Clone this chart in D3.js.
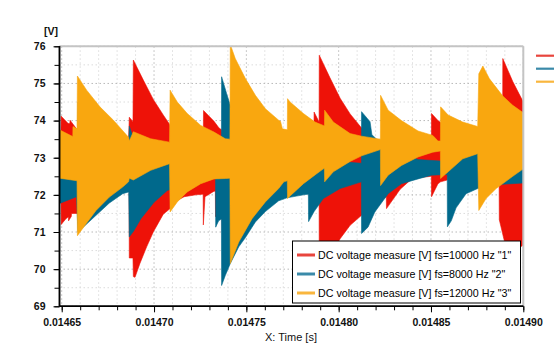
<!DOCTYPE html>
<html>
<head>
<meta charset="utf-8">
<script src="https://cdn.jsdelivr.net/npm/d3@7"></script>
<style>
  body { margin: 0; background: #fff; }
  svg { display: block; }
  text { font-family: "Liberation Sans", Arial, sans-serif; }
</style>
</head>
<body>
<script>
// envelopes of the ripple bands, [time s, voltage V]
const redUpper = [[0.0146488,73.70],[0.0146496,73.70],[0.0146497,74.12],[0.0146535,73.92],[0.0146544,73.92],[0.0146545,74.01],[0.0146577,73.80],[0.0146585,73.75],[0.0146862,73.40],[0.0146866,74.09],[0.0146886,73.97],[0.0146888,75.63],[0.0146942,75.09],[0.0146996,74.57],[0.0147050,74.15],[0.0147084,73.90],[0.0147087,73.85],[0.0147267,73.60],[0.0147268,74.27],[0.0147325,73.98],[0.0147352,73.80],[0.0147366,73.75],[0.0147370,73.60],[0.0147866,73.70],[0.0147867,74.23],[0.0147894,73.96],[0.0147895,75.76],[0.0147953,75.15],[0.0148008,74.60],[0.0148062,74.18],[0.0148124,73.80],[0.0148170,73.60],[0.0148227,73.40],[0.0148502,73.30],[0.0148503,74.19],[0.0148538,74.00],[0.0148552,73.95],[0.0148870,73.60],[0.0148888,73.60],[0.0148889,75.67],[0.0148943,75.05],[0.0149000,74.50]];
const redLower = [[0.0146488,72.00],[0.0146496,72.00],[0.0146497,71.20],[0.0146523,71.36],[0.0146536,71.41],[0.0146537,71.30],[0.0146552,71.42],[0.0146553,71.50],[0.0146585,71.50],[0.0146862,72.20],[0.0146865,72.20],[0.0146866,70.30],[0.0146886,70.30],[0.0146888,69.80],[0.0146897,69.78],[0.0146924,70.16],[0.0146960,70.60],[0.0146996,71.00],[0.0147050,71.48],[0.0147087,71.63],[0.0147126,71.85],[0.0147163,71.95],[0.0147226,72.00],[0.0147266,72.02],[0.0147267,71.19],[0.0147276,71.95],[0.0147325,72.10],[0.0147332,72.10],[0.0147333,71.41],[0.0147352,71.60],[0.0147366,71.65],[0.0147370,71.00],[0.0147600,71.90],[0.0147894,72.10],[0.0147895,69.90],[0.0147953,70.35],[0.0148008,70.82],[0.0148062,71.18],[0.0148124,71.45],[0.0148170,71.60],[0.0148227,71.85],[0.0148258,71.95],[0.0148259,71.63],[0.0148333,72.15],[0.0148400,72.45],[0.0148502,72.50],[0.0148503,71.95],[0.0148538,72.30],[0.0148552,72.35],[0.0148588,72.40],[0.0148590,72.50],[0.0148869,72.40],[0.0148870,71.33],[0.0148905,70.60],[0.0148943,70.45],[0.0149000,70.65]];

const tealUpper = [[0.0146488,73.30],[0.0146587,73.30],[0.0146588,74.50],[0.0146863,73.45],[0.0146866,73.85],[0.0146887,73.55],[0.0147084,73.35],[0.0147365,73.35],[0.0147366,75.18],[0.0147393,74.73],[0.0147407,74.51],[0.0147413,74.40],[0.0147549,74.00],[0.0147703,73.50],[0.0147836,73.50],[0.0148000,72.90],[0.0148123,72.85],[0.0148124,74.24],[0.0148170,73.97],[0.0148180,73.62],[0.0148226,73.40],[0.0148430,72.95],[0.0148588,72.90],[0.0148589,73.90],[0.0148753,73.30],[0.0148890,72.95],[0.0149000,72.90]];
const tealLower = [[0.0146488,71.77],[0.0146580,71.95],[0.0146588,71.00],[0.0146632,71.20],[0.0146758,71.78],[0.0146830,72.03],[0.0146863,72.08],[0.0146866,70.87],[0.0146889,71.02],[0.0146929,71.36],[0.0147000,71.80],[0.0147072,72.12],[0.0147163,72.26],[0.0147253,72.39],[0.0147325,72.48],[0.0147333,72.48],[0.0147334,71.13],[0.0147350,71.30],[0.0147365,71.35],[0.0147366,69.56],[0.0147386,69.83],[0.0147413,70.15],[0.0147459,70.60],[0.0147495,70.85],[0.0147549,71.27],[0.0147603,71.55],[0.0147675,71.84],[0.0147720,71.92],[0.0147809,72.00],[0.0147836,72.02],[0.0147837,71.28],[0.0147867,71.55],[0.0147917,71.90],[0.0148008,72.17],[0.0148123,72.35],[0.0148124,70.96],[0.0148159,71.13],[0.0148196,71.54],[0.0148268,72.03],[0.0148340,72.30],[0.0148430,72.43],[0.0148503,72.53],[0.0148588,72.55],[0.0148589,71.14],[0.0148610,71.30],[0.0148636,71.65],[0.0148690,72.03],[0.0148753,72.17],[0.0148870,72.28],[0.0149000,72.32]];

const orangeUpper = [[0.0146488,73.75],[0.0146560,73.57],[0.0146561,73.84],[0.0146583,73.78],[0.0146585,75.20],[0.0146635,74.82],[0.0146707,74.37],[0.0146780,74.01],[0.0146862,73.55],[0.0146866,73.45],[0.0146888,73.70],[0.0146982,73.51],[0.0147084,73.42],[0.0147087,74.82],[0.0147126,74.50],[0.0147180,74.19],[0.0147253,73.87],[0.0147325,73.69],[0.0147386,73.51],[0.0147411,73.50],[0.0147413,76.05],[0.0147440,75.67],[0.0147495,75.13],[0.0147549,74.68],[0.0147603,74.32],[0.0147675,74.01],[0.0147685,73.98],[0.0147695,73.78],[0.0147722,73.75],[0.0147723,74.59],[0.0147737,74.50],[0.0147809,74.19],[0.0147872,73.96],[0.0147917,73.87],[0.0147923,73.87],[0.0147924,74.28],[0.0147971,73.96],[0.0148062,73.65],[0.0148124,73.58],[0.0148226,73.50],[0.0148227,74.68],[0.0148268,74.28],[0.0148340,74.00],[0.0148430,73.72],[0.0148510,73.60],[0.0148538,73.45],[0.0148551,73.45],[0.0148552,74.37],[0.0148593,74.15],[0.0148672,73.96],[0.0148753,73.84],[0.0148759,75.26],[0.0148781,75.47],[0.0148816,75.13],[0.0148889,74.66],[0.0148943,74.41],[0.0149000,74.21]];
const orangeLower = [[0.0146488,72.45],[0.0146583,72.38],[0.0146585,70.90],[0.0146632,71.22],[0.0146686,71.58],[0.0146758,71.94],[0.0146830,72.21],[0.0146862,72.35],[0.0146866,72.45],[0.0146888,72.40],[0.0146982,72.66],[0.0147084,72.84],[0.0147087,71.54],[0.0147126,71.81],[0.0147180,72.08],[0.0147253,72.30],[0.0147325,72.43],[0.0147386,72.44],[0.0147411,72.45],[0.0147413,70.15],[0.0147459,70.73],[0.0147531,71.36],[0.0147603,71.81],[0.0147675,72.17],[0.0147703,72.35],[0.0147722,72.38],[0.0147723,71.90],[0.0147737,71.97],[0.0147809,72.30],[0.0147881,72.57],[0.0147917,72.70],[0.0147923,72.70],[0.0147924,72.35],[0.0147971,72.62],[0.0148062,72.90],[0.0148124,73.05],[0.0148226,73.22],[0.0148227,72.25],[0.0148268,72.53],[0.0148340,72.79],[0.0148430,73.02],[0.0148510,73.15],[0.0148551,73.18],[0.0148552,72.44],[0.0148593,72.62],[0.0148672,72.97],[0.0148753,73.11],[0.0148759,71.58],[0.0148798,71.90],[0.0148853,72.17],[0.0148943,72.50],[0.0149000,72.70]];

const legendLabels = ['DC voltage measure [V] fs=10000 Hz "1"', 'DC voltage measure [V] fs=8000 Hz "2"', 'DC voltage measure [V] fs=12000 Hz "3"'];
const fillColors = ["#ee1208", "#00698c", "#f9a70f"];
const legendColors = ["#e8453d", "#3a8aa9", "#f9b63e"];
const xMajor = [0.01465, 0.01470, 0.01475, 0.01480, 0.01485, 0.01490];
const yMajor = [69, 70, 71, 72, 73, 74, 75, 76];

const W = 558, H = 350;
const L = 59.5, R = 523.3, T = 46.3, B = 306.3;

const svg = d3.select("body").append("svg").attr("width", W).attr("height", H);

const x = d3.scaleLinear().domain([0.0146488, 0.0149]).range([L, R]);
const y = d3.scaleLinear().domain([69, 76]).range([B, T]);

const xMinor = d3.range(0, 26).map(i => 0.01465 + i * 1e-5);
const yMinor = d3.range(0, 15).map(i => 69 + i * 0.5);

// grid
const grid = svg.append("g");
xMinor.forEach((v, i) => {
  grid.append("line")
    .attr("x1", x(v)).attr("x2", x(v)).attr("y1", T).attr("y2", B)
    .attr("stroke", i % 5 === 0 ? "#b8b8b8" : "#dcdcdc")
    .attr("stroke-dasharray", "1.5,2.5");
});
yMinor.forEach((v, i) => {
  grid.append("line")
    .attr("x1", L).attr("x2", R).attr("y1", y(v)).attr("y2", y(v))
    .attr("stroke", i % 2 === 0 ? "#b8b8b8" : "#dcdcdc")
    .attr("stroke-dasharray", "1.5,2.5");
});

svg.append("clipPath").attr("id", "plot")
  .append("rect").attr("x", L).attr("y", T).attr("width", R - L).attr("height", B - T);

const line = d3.line().x(d => x(d[0])).y(d => y(d[1]));
const bands = [[redUpper, redLower], [tealUpper, tealLower], [orangeUpper, orangeLower]];

const plot = svg.append("g").attr("clip-path", "url(#plot)");
bands.forEach((b, i) => {
  const pts = b[0].concat(b[1].slice().reverse());
  plot.append("path")
    .attr("d", line(pts) + "Z")
    .attr("fill", fillColors[i])
    .attr("stroke", fillColors[i])
    .attr("stroke-width", 0.6);
});

// frame
svg.append("line").attr("x1", L).attr("x2", R).attr("y1", T).attr("y2", T)
  .attr("stroke", "#c4c4c4").attr("stroke-width", 2);
svg.append("line").attr("x1", R).attr("x2", R).attr("y1", T).attr("y2", B)
  .attr("stroke", "#c4c4c4").attr("stroke-width", 2);

// axes
const xAxisMinor = svg.append("g").attr("transform", `translate(0,${B})`)
  .call(d3.axisBottom(x).tickValues(xMinor).tickSize(4).tickFormat(""));
const xAxis = svg.append("g").attr("transform", `translate(0,${B})`)
  .call(d3.axisBottom(x).tickValues(xMajor).tickSize(6).tickPadding(6).tickFormat(d3.format(".5f")));
const yAxisMinor = svg.append("g").attr("transform", `translate(${L},0)`)
  .call(d3.axisLeft(y).tickValues(yMinor).tickSize(5).tickFormat(""));
const yAxis = svg.append("g").attr("transform", `translate(${L},0)`)
  .call(d3.axisLeft(y).tickValues(yMajor).tickSize(6).tickPadding(8).tickFormat(d3.format("d")));

[xAxisMinor, xAxis, yAxisMinor, yAxis].forEach(a => {
  a.select(".domain").attr("stroke", "#000").attr("stroke-width", 1.5);
  a.selectAll(".tick line").attr("stroke", "#000");
  a.selectAll("text")
    .style("font-family", '"Liberation Sans", Arial, sans-serif')
    .style("font-size", "10.5px").style("font-weight", "bold").attr("fill", "#111");
});
xAxis.select(".domain").attr("d", `M${L},0H${R}`);
xAxisMinor.select(".domain").attr("d", `M${L},0H${R}`);
yAxis.select(".domain").attr("d", `M0,${B}V${T}`);
yAxisMinor.select(".domain").attr("d", `M0,${B}V${T}`);

svg.append("text").attr("x", 58).attr("y", 35).attr("text-anchor", "end")
  .style("font-size", "10.5px").style("font-weight", "bold").attr("fill", "#111")
  .text("[V]");

svg.append("text").attr("x", 291).attr("y", 341).attr("text-anchor", "middle")
  .style("font-size", "11px").attr("fill", "#111")
  .text("X: Time [s]");

// cut-off legend at the right
legendColors.forEach((c, i) => {
  svg.append("line").attr("x1", 536).attr("x2", 554)
    .attr("y1", 55.7 + i * 13).attr("y2", 55.7 + i * 13)
    .attr("stroke", c).attr("stroke-width", 2.2);
});

// legend box
const lg = svg.append("g");
lg.append("rect").attr("x", 292.5).attr("y", 241).attr("width", 228).attr("height", 62)
  .attr("fill", "#fff").attr("stroke", "#000").attr("stroke-width", 1);
legendLabels.forEach((t, i) => {
  const cy = 255 + i * 19;
  lg.append("line").attr("x1", 297).attr("x2", 315).attr("y1", cy).attr("y2", cy)
    .attr("stroke", legendColors[i]).attr("stroke-width", 3);
  lg.append("text").attr("x", 318).attr("y", cy + 4)
    .style("font-size", "10.7px").attr("fill", "#000").text(t);
});
</script>
</body>
</html>
